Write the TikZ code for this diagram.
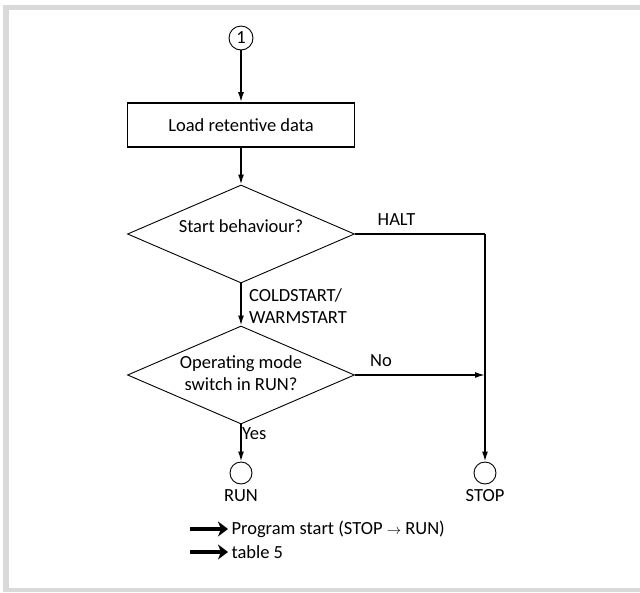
\documentclass[tikz,border=0pt]{standalone}
\usepackage{xcolor}
\usepackage{fontspec}
\setmainfont{Carlito}
\usepackage{tikz}
\usetikzlibrary{arrows.meta,positioning,shapes.geometric}

\definecolor{framegray}{RGB}{217,217,217}

\begin{document}
\begin{tikzpicture}[
    x=1pt, y=-1pt,
    font=\fontsize{18.5}{22}\selectfont,
    every node/.style={align=center},
    box/.style={
        rectangle,
        draw=black,
        line width=1.6pt,
        minimum width=227pt,
        minimum height=44pt
    },
    decision/.style={
        diamond,
        draw=black,
        line width=0.9pt,
        inner sep=0pt,
        minimum width=227pt,
        minimum height=98pt
    },
    terminal/.style={
        circle,
        draw=black,
        line width=0.9pt,
        inner sep=0pt,
        minimum size=22pt
    },
    flow/.style={
        line width=1.6pt,
        -{Latex[length=10pt,width=6pt]}
    },
    link/.style={line width=1.6pt},
    refarrow/.style={
        line width=3.4pt,
        -{Stealth[length=10pt,width=15pt,inset=3pt]}
    }
]
\useasboundingbox (0,0) rectangle (640,592);
% frame
\fill[framegray] (3,5) rectangle (640,10);
\fill[framegray] (3,5) rectangle (9,592);
\fill[framegray] (3,588) rectangle (640,592);

\node[terminal, minimum size=24pt] (entry) at (241,38) {1};
\node[box] (load) at (241,125) {Load retentive data};
\node[decision, label={[yshift=8pt]center:Start behaviour?}] (startq) at (241,234) {};
\node[decision, label={[yshift=2pt]center:Operating mode\\switch in RUN?}] (modeq) at (241,375) {};
\node[terminal] (run) at (241,473) {};
\node[terminal] (stop) at (485,473) {};
\node[below=2pt of run] (runlabel) {RUN};
\node[below=2pt of stop] (stoplabel) {STOP};
\coordinate (haltcorner) at (485,234);
\coordinate (join) at (485,375);

\draw[flow] (entry) -- (load);
\draw[flow] (load) -- (startq);
\draw[flow] (startq) -- node[right, align=left, xshift=4pt, pos=0.55]{COLDSTART/\\WARMSTART} (modeq);
\draw[link] (startq.east) -- node[above, yshift=4pt, pos=0.32]{HALT} (haltcorner);
\draw[flow] (haltcorner) -- (stop);
\draw[flow] (modeq.east) -- node[above, yshift=4pt, pos=0.2]{No} (join);
\draw[flow] (modeq) -- node[right, pos=0.25, xshift=-3pt]{Yes} (run);

% references
\node[anchor=west] (prog) at (228,529) {Program start (STOP {\fontsize{14}{14}\selectfont$\rightarrow$} RUN)};
\node[anchor=west] (table) at (228,552) {table 5};
\draw[refarrow] ([xshift=-38pt]prog.west) -- (prog.west);
\draw[refarrow] ([xshift=-38pt]table.west) -- (table.west);
\end{tikzpicture}
\end{document}
